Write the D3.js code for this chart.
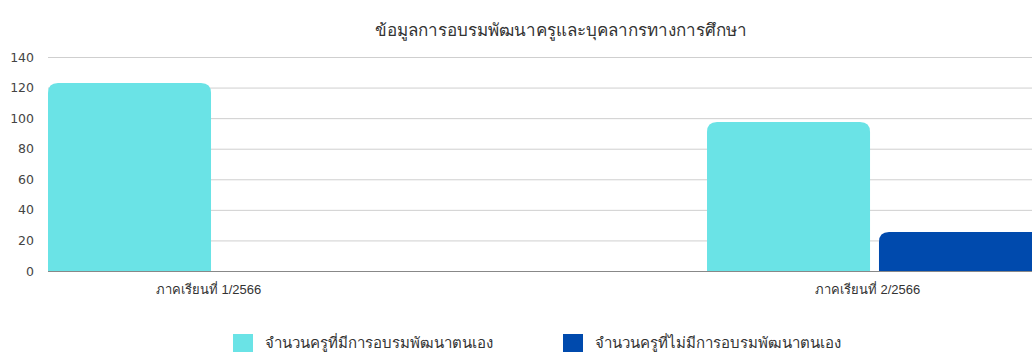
<!DOCTYPE html>
<html lang="th">
<head>
  <meta charset="UTF-8">
  <title>ข้อมูลการอบรมพัฒนาครูและบุคลากรทางการศึกษา</title>
  <script src="https://d3js.org/d3.v7.min.js"></script>
  <style>
    * { margin: 0; padding: 0; }
    body { background: #fff; overflow: hidden; }
    svg { display: block; font-family: "Noto Sans", "DejaVu Sans", sans-serif; }
  </style>
</head>
<body>
  <div class="chart"></div>
  <script>
    var width = 1032;
    var height = 352;

    // data
    var title = 'ข้อมูลการอบรมพัฒนาครูและบุคลากรทางการศึกษา';
    var categories = ['ภาคเรียนที่ 1/2566', 'ภาคเรียนที่ 2/2566'];
    var seriesNames = ['จำนวนครูที่มีการอบรมพัฒนาตนเอง', 'จำนวนครูที่ไม่มีการอบรมพัฒนาตนเอง'];
    var trainedValues = [123, 97.5];
    var untrainedValues = [0, 25.5];
    var yTicks = [0, 20, 40, 60, 80, 100, 120, 140];
    var colors = ['#6ae3e6', '#004aad'];

    var seriesValues = [trainedValues, untrainedValues];

    var svg = d3.select('.chart')
      .append('svg')
      .attr('width', width)
      .attr('height', height);

    // scales
    var xScale = d3.scaleBand()
      .domain(categories)
      .range([48, 1042])
      .paddingInner(0.4917)
      .paddingOuter(0);

    var xSub = d3.scaleBand()
      .domain(d3.range(seriesNames.length))
      .range([0, xScale.bandwidth()])
      .paddingInner(0.052);

    var yScale = d3.scaleLinear()
      .domain([0, 140])
      .range([271, 57]);

    // title
    svg.append('text')
      .attr('x', 561)
      .attr('y', 36)
      .attr('text-anchor', 'middle')
      .attr('font-size', 17)
      .attr('fill', '#333')
      .text(title);

    // gridlines + y labels
    var yAxis = d3.axisLeft(yScale)
      .tickValues(yTicks)
      .tickSize(-(width - 48))
      .tickPadding(14);

    var yg = svg.append('g')
      .attr('transform', 'translate(48,0)')
      .call(yAxis);
    yg.select('.domain').remove();
    yg.selectAll('.tick line')
      .attr('stroke', function (d) { return d === 0 ? '#888' : '#cfcfcf'; })
      .attr('stroke-width', 1);
    yg.selectAll('.tick text')
      .attr('font-size', 12.5)
      .attr('fill', '#444')
      .attr('font-family', '"DejaVu Sans", sans-serif');

    // bars with rounded top corners
    function topRounded(x, y, w, h, r) {
      r = Math.min(r, h, w / 2);
      return 'M' + x + ',' + (y + h) +
        'V' + (y + r) +
        'Q' + x + ',' + y + ' ' + (x + r) + ',' + y +
        'H' + (x + w - r) +
        'Q' + (x + w) + ',' + y + ' ' + (x + w) + ',' + (y + r) +
        'V' + (y + h) + 'Z';
    }

    var groups = svg.selectAll('.group')
      .data(categories)
      .enter()
      .append('g')
      .attr('class', 'group')
      .attr('transform', function (d) { return 'translate(' + xScale(d) + ',0)'; });

    groups.selectAll('path')
      .data(function (d, i) {
        return seriesValues.map(function (vals, s) { return { s: s, v: vals[i] }; });
      })
      .enter()
      .append('path')
      .filter(function (d) { return d.v > 0; })
      .attr('fill', function (d) { return colors[d.s]; })
      .attr('d', function (d) {
        var y = yScale(d.v);
        return topRounded(xSub(d.s), y, xSub.bandwidth(), yScale(0) - y, 10);
      });

    // x labels
    var xAxis = d3.axisBottom(xScale).tickSize(0).tickPadding(0);
    var xg = svg.append('g')
      .attr('transform', 'translate(-7,' + 285 + ')')
      .call(xAxis);
    xg.select('.domain').remove();
    xg.selectAll('.tick text')
      .attr('font-size', 13)
      .attr('fill', '#333')
      .attr('dy', '0.71em');

    // legend
    var legendX = [233, 563];
    var legend = svg.selectAll('.legend')
      .data(seriesNames)
      .enter()
      .append('g')
      .attr('class', 'legend')
      .attr('transform', function (d, i) { return 'translate(' + legendX[i] + ',334)'; });

    legend.append('rect')
      .attr('width', 20)
      .attr('height', 20)
      .attr('fill', function (d, i) { return colors[i]; });

    legend.append('text')
      .attr('x', 32)
      .attr('y', 14)
      .attr('font-size', 15)
      .attr('fill', '#333')
      .text(function (d) { return d; });
  </script>
</body>
</html>
